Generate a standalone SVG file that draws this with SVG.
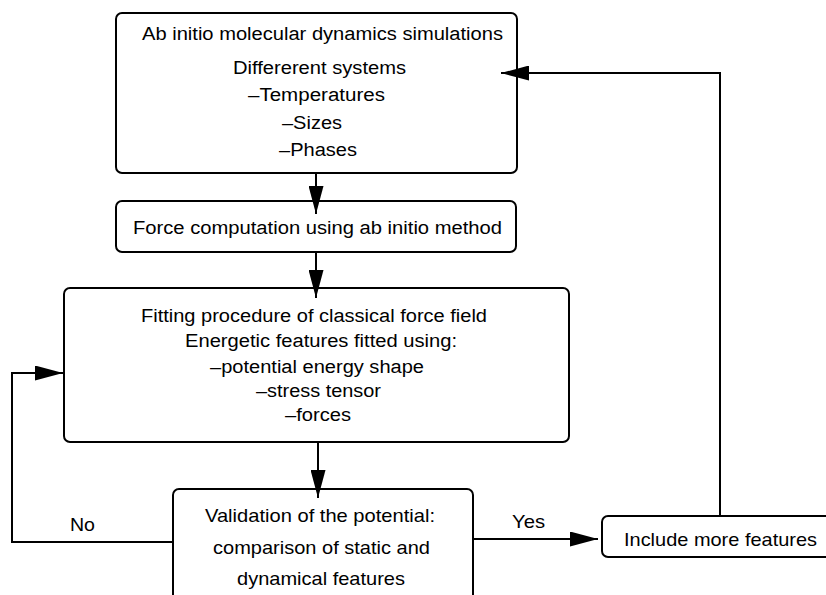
<svg xmlns="http://www.w3.org/2000/svg" width="826" height="595" viewBox="0 0 826 595">
  <style>
    .box { fill: #ffffff; stroke: #000000; stroke-width: 2; }
    .wire { fill: none; stroke: #000000; stroke-width: 2; }
    text { font-family: "Liberation Sans", Arial, sans-serif; fill: #000000; text-anchor: middle; }
    .t18 { font-size: 18px; }
    .t19 { font-size: 19px; }
    .lbl { font-size: 19px; text-anchor: start; }
  </style>
  <defs>
    <marker id="head" markerUnits="userSpaceOnUse" markerWidth="28" markerHeight="15" refX="28" refY="7.5" orient="auto">
      <path d="M0,0 L28,7.5 L0,15 Z" fill="#000000"/>
    </marker>
  </defs>
  <rect width="826" height="595" fill="#ffffff"/>

  <!-- ab initio MD simulations -->
  <g id="md-simulations">
    <rect class="box" x="116" y="13" width="401" height="160" rx="6"/>
    <text class="t18" x="322.5" y="40" textLength="361" lengthAdjust="spacingAndGlyphs">Ab initio molecular dynamics simulations</text>
    <text class="t18" x="319.5" y="73.5" textLength="173" lengthAdjust="spacingAndGlyphs">Differerent systems</text>
    <text class="t18" x="316.5" y="101" textLength="137" lengthAdjust="spacingAndGlyphs">–Temperatures</text>
    <text class="t18" x="312" y="129" textLength="60" lengthAdjust="spacingAndGlyphs">–Sizes</text>
    <text class="t18" x="318" y="156" textLength="78" lengthAdjust="spacingAndGlyphs">–Phases</text>
  </g>

  <!-- force computation -->
  <g id="force-computation">
    <rect class="box" x="116" y="201" width="400" height="51" rx="6"/>
    <text class="t18" x="317.5" y="234" textLength="369" lengthAdjust="spacingAndGlyphs">Force computation using ab initio method</text>
  </g>

  <!-- fitting procedure -->
  <g id="fitting">
    <rect class="box" x="64" y="288" width="505" height="154" rx="6"/>
    <text class="t18" x="314" y="322" textLength="346" lengthAdjust="spacingAndGlyphs">Fitting procedure of classical force field</text>
    <text class="t18" x="321" y="347" textLength="272" lengthAdjust="spacingAndGlyphs">Energetic features fitted using:</text>
    <text class="t18" x="317" y="373" textLength="214" lengthAdjust="spacingAndGlyphs">–potential energy shape</text>
    <text class="t18" x="318.5" y="397" textLength="125" lengthAdjust="spacingAndGlyphs">–stress tensor</text>
    <text class="t18" x="318" y="421" textLength="66" lengthAdjust="spacingAndGlyphs">–forces</text>
  </g>

  <!-- validation -->
  <g id="validation">
    <rect class="box" x="173" y="489" width="300" height="140" rx="6"/>
    <text class="t19" x="320" y="522" textLength="230" lengthAdjust="spacingAndGlyphs">Validation of the potential:</text>
    <text class="t19" x="321.5" y="554" textLength="217" lengthAdjust="spacingAndGlyphs">comparison of static and</text>
    <text class="t19" x="321" y="585" textLength="168" lengthAdjust="spacingAndGlyphs">dynamical features</text>
  </g>

  <!-- include more features -->
  <g id="include-more">
    <rect class="box" x="602" y="516" width="250" height="41" rx="6"/>
    <text class="t19" x="720.5" y="546" textLength="193" lengthAdjust="spacingAndGlyphs">Include more features</text>
  </g>

  <!-- connectors, drawn over the boxes so the arrow tips stay visible -->
  <g id="connectors">
    <line class="wire" x1="316" y1="173" x2="316" y2="214" marker-end="url(#head)"/>
    <line class="wire" x1="316" y1="252" x2="316" y2="298" marker-end="url(#head)"/>
    <line class="wire" x1="318" y1="442" x2="318" y2="498" marker-end="url(#head)"/>
    <polyline class="wire" points="173,542 12,542 12,373 63,373" marker-end="url(#head)"/>
    <line class="wire" x1="473" y1="539" x2="598" y2="539" marker-end="url(#head)"/>
    <polyline class="wire" points="720,516 720,73 501,73" marker-end="url(#head)"/>
    <text class="lbl" x="70" y="531" textLength="25" lengthAdjust="spacingAndGlyphs">No</text>
    <text class="lbl" x="512" y="528" textLength="33" lengthAdjust="spacingAndGlyphs">Yes</text>
  </g>
</svg>
